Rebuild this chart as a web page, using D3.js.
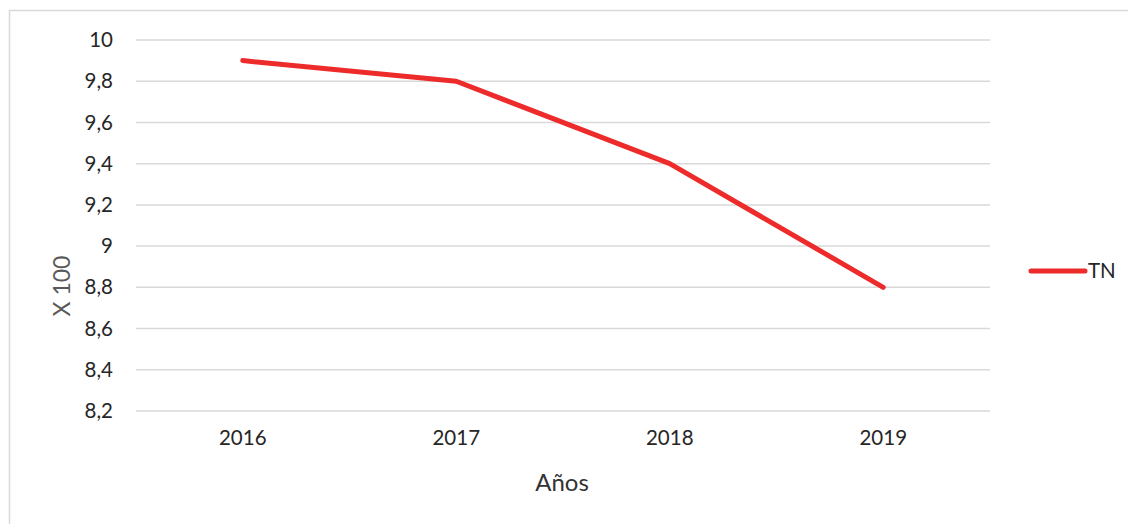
<!DOCTYPE html>
<html>
<head>
<meta charset="utf-8">
<script src="https://cdn.jsdelivr.net/npm/d3@7"></script>
<style>
  body { margin: 0; background: #fff; }
  text { font-family: Lato, "Open Sans", sans-serif; }
</style>
</head>
<body>
<script>
var width = 1128,
    height = 524;

var years = ["2016", "2017", "2018", "2019"];
var tnValues = [9.9, 9.8, 9.4, 8.8];
var yTicks = [8.2, 8.4, 8.6, 8.8, 9, 9.2, 9.4, 9.6, 9.8, 10];

var svg = d3.select("body").append("svg")
    .attr("width", width)
    .attr("height", height);

// chart frame
svg.append("rect")
    .attr("x", 9.5)
    .attr("y", 10.5)
    .attr("width", width + 20)
    .attr("height", height + 20)
    .attr("fill", "#fff")
    .attr("stroke", "#d9d9d9")
    .attr("stroke-width", 1.5);

var x = d3.scaleBand()
    .domain(years)
    .range([136, 990]);

var y = d3.scaleLinear()
    .domain([8.2, 10])
    .range([411, 40]);

var fmt = function (d) { return String(d).replace(".", ","); };

// gridlines
svg.append("g")
    .attr("class", "grid")
    .selectAll("line")
    .data(yTicks)
    .enter().append("line")
    .attr("x1", 136)
    .attr("x2", 990)
    .attr("y1", function (d) { return y(d); })
    .attr("y2", function (d) { return y(d); })
    .attr("stroke", "#d9d9d9")
    .attr("stroke-width", 1.5);

// y axis labels
var yAxis = svg.append("g")
    .attr("transform", "translate(113,0)")
    .call(d3.axisLeft(y).tickValues(yTicks).tickFormat(fmt).tickSize(0).tickPadding(0));
yAxis.select(".domain").remove();
yAxis.selectAll("text")
    .attr("font-size", 20.5)
    .attr("fill", "#262626")
    .style("font-family", "Lato, sans-serif");

// x axis labels
var xAxis = svg.append("g")
    .attr("transform", "translate(0,430)")
    .call(d3.axisBottom(x).tickSize(0).tickPadding(0));
xAxis.select(".domain").remove();
xAxis.selectAll("text")
    .attr("font-size", 20.5)
    .attr("fill", "#262626")
    .style("font-family", "Lato, sans-serif");

// axis titles
svg.append("text")
    .attr("transform", "translate(70,286) rotate(-90)")
    .attr("text-anchor", "middle")
    .attr("font-size", 23)
    .attr("fill", "#595959")
    .text("X 100");

svg.append("text")
    .attr("x", 562)
    .attr("y", 491)
    .attr("text-anchor", "middle")
    .attr("font-size", 24)
    .attr("fill", "#333")
    .text("Años");

// line
var line = d3.line()
    .x(function (d, i) { return x(years[i]) + x.bandwidth() / 2; })
    .y(function (d) { return y(d); });

svg.append("path")
    .datum(tnValues)
    .attr("d", line)
    .attr("fill", "none")
    .attr("stroke", "#ee2b2b")
    .attr("stroke-width", 5)
    .attr("stroke-linecap", "round")
    .attr("stroke-linejoin", "round");

// legend
svg.append("line")
    .attr("x1", 1031)
    .attr("x2", 1085)
    .attr("y1", 271)
    .attr("y2", 271)
    .attr("stroke", "#ee2b2b")
    .attr("stroke-width", 5)
    .attr("stroke-linecap", "round");

svg.append("text")
    .attr("x", 1088)
    .attr("y", 278)
    .attr("font-size", 20.5)
    .attr("fill", "#262626")
    .text("TN");
</script>
</body>
</html>
